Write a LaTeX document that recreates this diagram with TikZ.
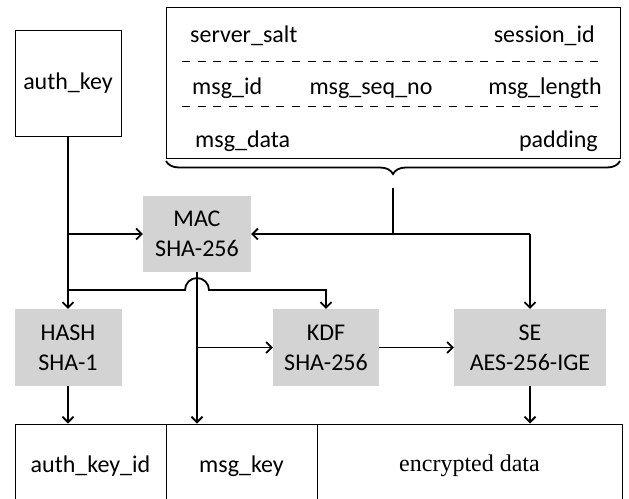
\documentclass[tikz,border=0pt]{standalone}
\usepackage{fontspec}
\setmainfont{Carlito}
\newfontfamily\serifface{Liberation Serif}
\usetikzlibrary{arrows.meta,decorations.pathreplacing,calc}
\definecolor{boxgray}{RGB}{211,211,211}
\begin{document}
\begin{tikzpicture}[x=1pt,y=-1pt,
  every node/.style={font=\fontsize{24}{30}\selectfont, inner sep=0pt},
  plainbox/.style={draw, line width=1pt},
  proc/.style={fill=boxgray, align=center, minimum height=77pt},
  conn/.style={line width=1.8pt},
  arr/.style={conn, -{Straight Barb[length=5.5pt,width=11pt]}},
  sep/.style={line width=1pt, dash pattern=on 8pt off 7.7pt},
  ]
\useasboundingbox (0,0) rectangle (629,498);

% inputs
\node[plainbox, minimum width=106pt, minimum height=106pt] (authkey) at (68,83) {auth\_key};
\node[plainbox, minimum width=454pt, minimum height=151pt] (fields) at (393,82.5) {};
\node[anchor=base west] (t1) at (190,42) {server\_salt};
\node[anchor=base east] (t2) at (595,42) {session\_id};
\node[anchor=base west] (t3) at (192,94) {msg\_id};
\node[anchor=base] (t4) at (371,94) {msg\_seq\_no};
\node[anchor=base east] (t5) at (602,94) {msg\_length};
\node[anchor=base west] (t6) at (195,147) {msg\_data};
\node[anchor=base east] (t7) at (598,147) {padding};
\draw[sep] (182,61) -- (605,61);
\draw[sep] (182,106) -- (605,106);
\draw[conn, decorate, decoration={brace, amplitude=13pt}] (620,161) -- (166,161);

% processing boxes
\node[proc, minimum width=108pt, minimum height=76pt] (mac) at (197,234) {MAC\\SHA-256};
\node[proc, minimum width=107pt] (hash) at (68,347.5) {HASH\\SHA-1};
\node[proc, minimum width=106pt] (kdf) at (326,347.5) {KDF\\SHA-256};
\node[proc, minimum width=152pt] (se) at (530,347.5) {SE\\AES-256-IGE};

% output cells
\node[plainbox, minimum width=151pt, minimum height=84pt] (c1) at (90.5,466) {auth\_key\_id};
\node[plainbox, minimum width=151pt, minimum height=84pt] (c2) at (241.5,466) {msg\_key};
\node[plainbox, minimum width=305pt, minimum height=84pt] (c3) at (469.5,466) {\serifface encrypted data};

% connectors
\coordinate (bt) at (393,188);
\coordinate (sej) at (se.north |- mac.east);
\draw[conn] (bt) -- (bt |- mac.east);
\draw[arr] (sej) -- (mac.east);
\draw[arr] (sej) -- (se.north);
\draw[arr] (authkey.south) -- (hash.north);
\draw[arr] (authkey.south |- mac.west) -- (mac.west);

\coordinate (h1) at (68,290);
\coordinate (hc) at (mac.south |- h1);
\coordinate (ha) at ($(hc)+(-12,0)$);
\coordinate (hb) at ($(hc)+(12,0)$);
\draw[arr] (authkey.south |- h1) -- (ha)
  .. controls ($(ha)+(0,-6.6)$) and ($(hc)+(-6.6,-12)$) .. ($(hc)+(0,-12)$)
  .. controls ($(hc)+(6.6,-12)$) and ($(hb)+(0,-6.6)$) .. (hb)
  -- (kdf.north |- h1) -- (kdf.north);

\draw[arr] (mac.south) -- (mac.south |- c2.north);
\draw[arr] (mac.south |- kdf.west) -- (kdf.west);
\draw[arr] (kdf.east) -- (se.west);
\draw[arr] (hash.south) -- (hash.south |- c1.north);
\draw[arr] (se.south) -- (se.south |- c3.north);
\end{tikzpicture}
\end{document}
